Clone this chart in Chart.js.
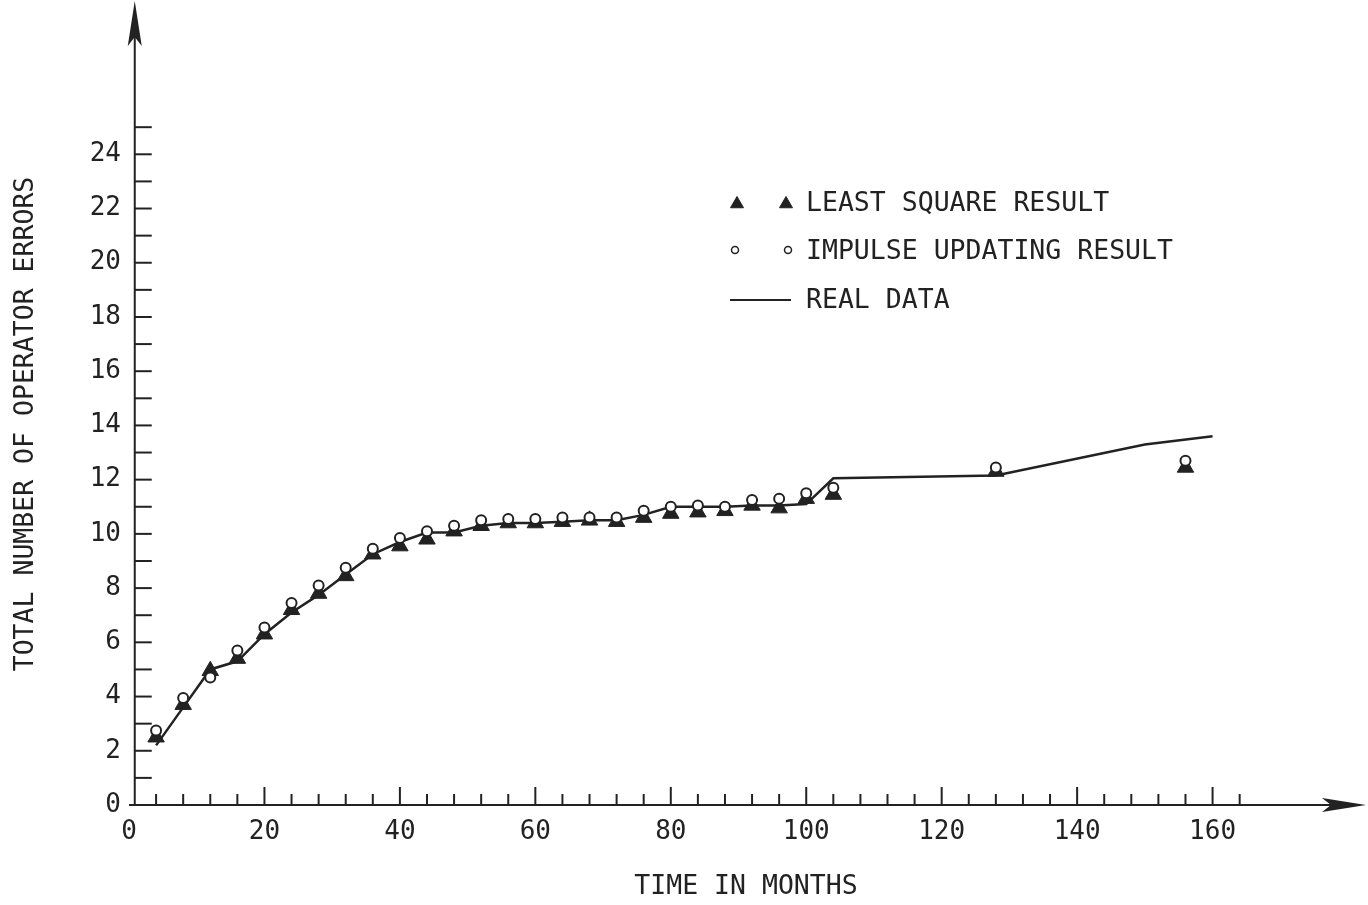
<!DOCTYPE html>
<html>
<head>
<meta charset="utf-8">
<title>Total number of operator errors</title>
<script src="https://cdn.jsdelivr.net/npm/chart.js@4.4.1/dist/chart.umd.min.js"></script>
<style>
  html, body { margin: 0; padding: 0; background: #fff; }
  #wrap { width: 1368px; height: 905px; }
</style>
</head>
<body>
<div id="wrap"><canvas id="chart" width="1368" height="905"></canvas></div>
<script>
// Données (mois, nombre cumulé d'erreurs)
const MONTHS = [4, 8, 12, 16, 20, 24, 28, 32, 36, 40, 44, 48, 52, 56, 60, 64, 68, 72, 76, 80, 84, 88, 92, 96, 100, 104, 128, 156];
const LEAST_SQUARE = [2.5, 3.7, 4.95, 5.4, 6.3, 7.2, 7.8, 8.45, 9.25, 9.55, 9.8, 10.1, 10.3, 10.4, 10.4, 10.45, 10.5, 10.45, 10.6, 10.75, 10.8, 10.85, 11.05, 10.95, 11.3, 11.45, 12.3, 12.45];
const IMPULSE = [2.75, 3.95, 4.7, 5.7, 6.55, 7.45, 8.1, 8.75, 9.45, 9.85, 10.1, 10.3, 10.5, 10.55, 10.55, 10.6, 10.6, 10.6, 10.85, 11.0, 11.05, 11.0, 11.25, 11.3, 11.5, 11.7, 12.45, 12.7];
const REAL_MONTHS = [4, 8, 12, 16, 20, 24, 28, 32, 36, 40, 44, 48, 52, 56, 60, 64, 68, 72, 76, 80, 84, 88, 92, 96, 100, 104, 128, 150, 160];
const REAL_DATA = [2.2, 3.6, 5.0, 5.3, 6.3, 7.1, 7.75, 8.5, 9.25, 9.7, 10.05, 10.05, 10.3, 10.4, 10.4, 10.45, 10.5, 10.5, 10.7, 11.0, 11.0, 11.0, 11.05, 11.05, 11.1, 12.05, 12.15, 13.3, 13.6];

// Graduations
const X_TICKS = [];
for (let m = 0; m <= 164; m += 4) X_TICKS.push(m);
const X_LABELS = [0, 20, 40, 60, 80, 100, 120, 140, 160];
const Y_TICKS = [];
for (let v = 0; v <= 25; v++) Y_TICKS.push(v);
const Y_LABELS = [0, 2, 4, 6, 8, 10, 12, 14, 16, 18, 20, 22, 24];

const INK = '#222';
const FONT = '"DejaVu Sans Mono", monospace';

function pts(xs, ys) {
    return xs.map((x, i) => ({ x: x, y: ys[i] }));
}

// Axes avec flèches et graduations intérieures
const axesPlugin = {
    id: 'axes',
    beforeDatasetsDraw(chart) {
        const ctx = chart.ctx;
        const xs = chart.scales.x;
        const ys = chart.scales.y;
        const ax = xs.getPixelForValue(0.85);
        const ay = ys.getPixelForValue(0);
        ctx.save();
        ctx.strokeStyle = INK;
        ctx.fillStyle = INK;
        ctx.lineWidth = 2;

        // axe des x
        ctx.beginPath();
        ctx.moveTo(xs.getPixelForValue(0), ay);
        ctx.lineTo(1350, ay);
        ctx.stroke();
        ctx.beginPath();
        ctx.moveTo(1366, ay);
        ctx.lineTo(1322, ay - 7);
        ctx.lineTo(1331, ay);
        ctx.lineTo(1322, ay + 7);
        ctx.closePath();
        ctx.fill();

        // axe des y
        ctx.beginPath();
        ctx.moveTo(ax, ay);
        ctx.lineTo(ax, 20);
        ctx.stroke();
        ctx.beginPath();
        ctx.moveTo(ax, 1);
        ctx.lineTo(ax - 7, 46);
        ctx.lineTo(ax, 37);
        ctx.lineTo(ax + 7, 46);
        ctx.closePath();
        ctx.fill();

        // graduations
        xs.ticks.forEach(t => {
            if (t.value === 0) return;
            const px = xs.getPixelForValue(t.value);
            const len = t.value % 20 === 0 ? 18 : 11;
            ctx.beginPath();
            ctx.moveTo(px, ay);
            ctx.lineTo(px, ay - len);
            ctx.stroke();
        });
        ys.ticks.forEach(t => {
            if (t.value === 0) return;
            const py = ys.getPixelForValue(t.value);
            ctx.beginPath();
            ctx.moveTo(ax, py);
            ctx.lineTo(ax + 17, py);
            ctx.stroke();
        });
        ctx.restore();
    },
    afterDraw(chart) {
        const ctx = chart.ctx;
        const ds = chart.data.datasets;
        ctx.save();
        ctx.fillStyle = INK;
        ctx.font = '26.5px ' + FONT;
        ctx.textBaseline = 'middle';

        // titres des axes
        ctx.textAlign = 'center';
        ctx.fillText('TIME IN MONTHS', 746, 887);
        ctx.save();
        ctx.translate(26, 424);
        ctx.rotate(-Math.PI / 2);
        ctx.fillText('TOTAL NUMBER OF OPERATOR ERRORS', 0, 0);
        ctx.restore();

        // légende
        ctx.textAlign = 'left';
        const tri = ds[1], circ = ds[0];
        ctx.fillStyle = tri.backgroundColor;
        ctx.strokeStyle = tri.borderColor;
        [737, 786].forEach(x => {
            Chart.helpers.drawPoint(ctx, {
                pointStyle: 'triangle', radius: 7.5, borderWidth: 1,
                rotation: 0
            }, x, 204);
        });
        ctx.fillStyle = INK;
        ctx.fillText('LEAST SQUARE RESULT', 806, 204);

        ctx.lineWidth = 1.5;
        [735, 788].forEach(x => {
            ctx.beginPath();
            ctx.arc(x, 250, 3.5, 0, Math.PI * 2);
            ctx.fillStyle = circ.backgroundColor;
            ctx.fill();
            ctx.strokeStyle = circ.borderColor;
            ctx.stroke();
        });
        ctx.fillStyle = INK;
        ctx.fillText('IMPULSE UPDATING RESULT', 806, 252);

        ctx.lineWidth = 2;
        ctx.strokeStyle = INK;
        ctx.beginPath();
        ctx.moveTo(730, 300);
        ctx.lineTo(791, 300);
        ctx.stroke();
        ctx.fillText('REAL DATA', 806, 301);
        ctx.restore();
    }
};

const ctx = document.getElementById('chart').getContext('2d');
const chart = new Chart(ctx, {
    type: 'scatter',
    data: {
        datasets: [
            {
                label: 'IMPULSE UPDATING RESULT',
                data: pts(MONTHS, IMPULSE),
                pointStyle: 'circle',
                pointRadius: 5,
                pointBorderWidth: 2,
                backgroundColor: '#fff',
                borderColor: INK,
                order: 0
            },
            {
                label: 'LEAST SQUARE RESULT',
                data: pts(MONTHS, LEAST_SQUARE),
                pointStyle: 'triangle',
                pointRadius: 9.5,
                pointBorderWidth: 1,
                backgroundColor: INK,
                borderColor: INK,
                order: 1
            },
            {
                label: 'REAL DATA',
                data: pts(REAL_MONTHS, REAL_DATA),
                showLine: true,
                pointRadius: 0,
                borderColor: INK,
                borderWidth: 2.5,
                tension: 0,
                order: 2
            }
        ]
    },
    options: {
        responsive: false,
        animation: false,
        devicePixelRatio: 1,
        layout: { padding: { top: 0, right: 3, bottom: 0, left: 0 } },
        plugins: {
            legend: { display: false },
            tooltip: { enabled: false }
        },
        scales: {
            x: {
                type: 'linear',
                min: 0,
                max: 181.4,
                afterFit: s => { s.height = 100; },
                afterBuildTicks: s => { s.ticks = X_TICKS.map(v => ({ value: v })); },
                grid: { display: false, drawTicks: false },
                border: { display: false },
                ticks: {
                    autoSkip: false,
                    maxRotation: 0,
                    padding: 12,
                    color: INK,
                    font: { family: FONT, size: 26 },
                    callback: v => X_LABELS.includes(v) ? String(v) : ''
                }
            },
            y: {
                type: 'linear',
                min: 0,
                max: 29.3,
                afterFit: s => { s.width = 129; },
                afterBuildTicks: s => { s.ticks = Y_TICKS.map(v => ({ value: v })); },
                grid: { display: false, drawTicks: false },
                border: { display: false },
                ticks: {
                    autoSkip: false,
                    padding: 8,
                    color: INK,
                    font: { family: FONT, size: 26, lineHeight: 0.2 },
                    callback: v => Y_LABELS.includes(v) ? String(v) : ''
                }
            }
        }
    },
    plugins: [axesPlugin]
});
</script>
</body>
</html>
